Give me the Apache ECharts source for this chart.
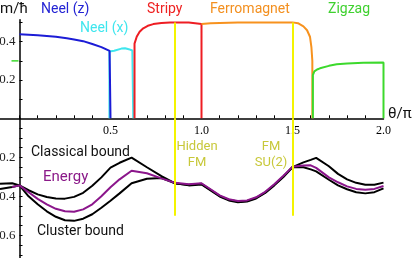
<!DOCTYPE html>
<html>
<head>
<meta charset="utf-8">
<script src="https://cdn.jsdelivr.net/npm/echarts@6/dist/echarts.min.js"></script>
<style>html,body{margin:0;padding:0;background:#fff}#c{width:415px;height:258px}</style>
</head>
<body>
<div id="c"></div>
<script>
// ---------- Top panel: magnetization m/hbar vs theta/pi ----------
const neelZTheta = [0, 0.1, 0.2, 0.26, 0.3, 0.35, 0.4, 0.45, 0.495, 0.5, 0.5];
const neelZM     = [0.439, 0.434, 0.426, 0.418, 0.412, 0.403, 0.388, 0.372, 0.352, 0.351, 0];
const neelXTheta = [0.494, 0.494, 0.52, 0.56, 0.58, 0.6, 0.62, 0.625, 0.625];
const neelXM     = [0, 0.349, 0.353, 0.364, 0.366, 0.361, 0.354, 0.352, 0];
const stripyTheta = [0.632, 0.632, 0.644, 0.66, 0.68, 0.705, 0.735, 0.78, 0.827, 0.93, 1.0, 1.0];
const stripyM     = [0, 0.39, 0.426, 0.452, 0.47, 0.483, 0.492, 0.498, 0.501, 0.5, 0.492, 0];
const fmTheta = [1.0, 1.05, 1.1, 1.2, 1.4, 1.5, 1.53, 1.56, 1.58, 1.596, 1.604, 1.609, 1.609];
const fmM     = [0.492, 0.496, 0.498, 0.5, 0.501, 0.501, 0.497, 0.48, 0.46, 0.426, 0.37, 0.3, 0];
const zigzagTheta = [1.612, 1.612, 1.62, 1.635, 1.651, 1.7, 1.743, 1.8, 1.889, 2.0, 2.0];
const zigzagM     = [0, 0.226, 0.245, 0.255, 0.261, 0.274, 0.282, 0.286, 0.29, 0.292, 0];

// ---------- Bottom panel: energies (axis pointing downward) ----------
const energyTheta = [-0.107, -0.04, 0, 0.05, 0.1, 0.15, 0.2, 0.25, 0.3, 0.35, 0.4, 0.45, 0.5, 0.55, 0.616, 0.7, 0.78, 0.855, 0.93, 1.0,
  1.05, 1.1, 1.15, 1.2, 1.25, 1.3, 1.35, 1.4, 1.45, 1.5, 1.56, 1.6, 1.63, 1.7, 1.75, 1.8, 1.85, 1.9, 1.95, 2.0];
const classicalBound = [0.336, 0.333, 0.344, 0.369, 0.390, 0.404, 0.411, 0.412, 0.403, 0.382, 0.346, 0.303, 0.253, 0.228, 0.202, 0.251, 0.297, 0.334, 0.341, 0.336,
  0.367, 0.398, 0.418, 0.427, 0.424, 0.408, 0.380, 0.341, 0.298, 0.250, 0.226, 0.213, 0.203, 0.246, 0.285, 0.313, 0.331, 0.341, 0.341, 0.330];
const energy = [null, 0.352, 0.344, 0.379, 0.413, 0.441, 0.464, 0.477, 0.479, 0.467, 0.441, 0.400, 0.354, 0.313, 0.269, 0.282, 0.308, 0.331, 0.338, 0.333,
  0.364, 0.395, 0.415, 0.424, 0.421, 0.405, 0.377, 0.338, 0.295, 0.249, 0.242, 0.241, 0.254, 0.303, 0.328, 0.349, 0.362, 0.367, 0.362, 0.347];
const clusterBound = [0.362, 0.352, 0.344, 0.400, 0.441, 0.477, 0.505, 0.523, 0.526, 0.515, 0.492, 0.459, 0.423, 0.385, 0.333, 0.310, 0.306, 0.333, 0.344, 0.339,
  0.370, 0.401, 0.421, 0.430, 0.427, 0.411, 0.383, 0.344, 0.301, 0.251, 0.251, 0.262, 0.272, 0.315, 0.344, 0.364, 0.379, 0.385, 0.379, 0.359];

// special points (yellow lines) and ticks
const specialTheta = [0.855, 1.5];
const specialTop = 0.5;
const xTicks = [0,0.1,0.2,0.3,0.4,0.5,0.6,0.7,0.8,0.9,1.0,1.1,1.2,1.3,1.4,1.5,1.6,1.7,1.8,1.9,2.0];
const xLabels = [0.5, 1.0, 1.5, 2.0];
const topYTicks = [0.1, 0.2, 0.3, 0.4, 0.5];
const topYLabels = [0.2, 0.4];
const botYTicks = [0.05,0.1,0.15,0.2,0.25,0.3,0.35,0.4,0.45,0.5,0.55,0.6,0.65,0.7];
const botYLabels = [0.2, 0.4, 0.6];
const zigzagMarkM = 0.3;

const zip = (a, b) => a.map((v, i) => [v, b[i]]);
const serif = 'Liberation Serif';
const sans = 'Roboto';

const chart = echarts.init(document.getElementById('c'), null, {renderer: 'canvas'});

function topLine(name, xs, ys, color) {
  return {name, type: 'line', xAxisIndex: 0, yAxisIndex: 0, data: zip(xs, ys), showSymbol: false,
    lineStyle: {color, width: 2}, silent: true, z: 3};
}
function botLine(name, ys, color, z) {
  return {name, type: 'line', xAxisIndex: 1, yAxisIndex: 1, data: zip(energyTheta, ys), showSymbol: false,
    connectNulls: false, lineStyle: {color, width: 2}, silent: true, z};
}
function yellow(xIdx, yTop) {
  return {type: 'line', xAxisIndex: xIdx, yAxisIndex: xIdx, data: [], z: 10,
    markLine: {symbol: 'none', silent: true, animation: false, label: {show: false},
      lineStyle: {color: '#f4f400', width: 2, type: 'solid'},
      data: specialTheta.map(t => [{coord: [t, 0]}, {coord: [t, yTop]}])}};
}

const option = {
  animation: false,
  grid: [
    {left: 19.5, top: 19.7, width: 364, height: 98.6, containLabel: false, outerBoundsMode: 'none'},
    {left: 0, top: 118.3, width: 383.5, height: 140.4, containLabel: false, outerBoundsMode: 'none'}
  ],
  xAxis: [
    {gridIndex: 0, type: 'value', min: 0, max: 2,
      axisLine: {show: false},
      axisTick: {show: true, inside: true, length: 3, customValues: xTicks, lineStyle: {color: '#000', width: 1}},
      axisLabel: {show: false}, splitLine: {show: false}},
    {gridIndex: 1, type: 'value', min: -0.107, max: 2, position: 'top',
      axisLine: {show: true, onZero: false, lineStyle: {color: '#000', width: 1.5}},
      axisTick: {show: false},
      axisLabel: {inside: true, customValues: xLabels, formatter: v => Number(v).toFixed(1),
        fontFamily: serif, fontSize: 12, color: '#000', margin: 7},
      splitLine: {show: false}}
  ],
  yAxis: [
    {gridIndex: 0, type: 'value', min: 0, max: 0.515,
      axisLine: {show: true, onZero: false, lineStyle: {color: '#000', width: 1.5}},
      axisTick: {show: true, inside: true, length: 3, customValues: topYTicks, lineStyle: {color: '#000'}},
      axisLabel: {customValues: topYLabels, formatter: v => Number(v).toFixed(1),
        fontFamily: serif, fontSize: 13, color: '#222', margin: 4},
      splitLine: {show: false}},
    {gridIndex: 1, type: 'value', min: 0, max: 0.72, inverse: true, offset: -19.5,
      axisLine: {show: true, onZero: false, lineStyle: {color: '#000', width: 1.5}},
      axisTick: {show: true, inside: true, length: 3, customValues: botYTicks, lineStyle: {color: '#000'}},
      axisLabel: {customValues: botYLabels, formatter: v => Number(v).toFixed(1),
        fontFamily: serif, fontSize: 13, color: '#222', margin: 4},
      splitLine: {show: false}}
  ],
  series: [
    topLine('Neel (x)', neelXTheta, neelXM, '#3fe6ee'),
    topLine('Neel (z)', neelZTheta, neelZM, '#1c1cd6'),
    topLine('Stripy', stripyTheta, stripyM, '#ee1d23'),
    topLine('Ferromagnet', fmTheta, fmM, '#f7921e'),
    topLine('Zigzag', zigzagTheta, zigzagM, '#3cd92c'),
    botLine('Classical bound', classicalBound, '#000', 3),
    botLine('Cluster bound', clusterBound, '#000', 3),
    botLine('Energy', energy, '#8b168b', 4),
    yellow(0, specialTop),
    yellow(1, specialTop)
  ],
  graphic: [
    {type: 'text', left: 0, top: 2, style: {text: 'm/ħ', font: '15px ' + sans, fill: '#111'}},
    {type: 'text', left: 41, top: 2, style: {text: 'Neel (z)', font: '14px ' + sans, fill: '#2424d4'}},
    {type: 'text', left: 80, top: 21, style: {text: 'Neel (x)', font: '14px ' + sans, fill: '#3fe6ee'}},
    {type: 'text', left: 147, top: 2, style: {text: 'Stripy', font: '14px ' + sans, fill: '#ee2222'}},
    {type: 'text', left: 210, top: 2, style: {text: 'Ferromagnet', font: '14px ' + sans, fill: '#f39020'}},
    {type: 'text', left: 328, top: 2, style: {text: 'Zigzag', font: '14px ' + sans, fill: '#3fd12f'}},
    {type: 'text', left: 388, top: 107, style: {text: 'θ/π', font: '15px ' + sans, fill: '#111'}},
    {type: 'text', left: 31, top: 145, style: {text: 'Classical bound', font: '14px ' + sans, fill: '#111'}},
    {type: 'text', left: 43, top: 170, style: {text: 'Energy', font: '15px ' + sans, fill: '#8b1a89'}},
    {type: 'text', left: 37, top: 224, style: {text: 'Cluster bound', font: '14px ' + sans, fill: '#111'}},
    {type: 'text', x: 197, y: 139, style: {text: 'Hidden\nFM', font: '13px ' + sans, fill: '#c8c83a', align: 'center', lineHeight: 16}},
    {type: 'text', x: 271, y: 139, style: {text: 'FM\nSU(2)', font: '13px ' + sans, fill: '#c8c83a', align: 'center', lineHeight: 16}}
  ]
};
chart.setOption(option);

// small green mark on the top y axis at the zigzag magnetization level
const p = chart.convertToPixel({gridIndex: 0}, [0, zigzagMarkM]);
chart.setOption({graphic: option.graphic.concat([
  {type: 'line', shape: {x1: p[0] - 8, y1: p[1], x2: p[0] - 1, y2: p[1]}, style: {stroke: '#3cd92c', lineWidth: 1.5}}
])});
</script>
</body>
</html>
